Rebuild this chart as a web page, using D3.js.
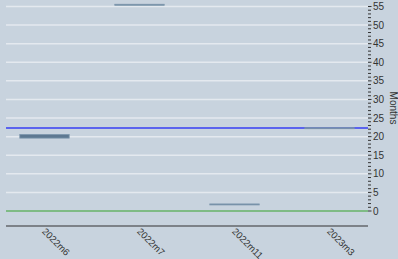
<!DOCTYPE html>
<html>
<head>
<meta charset="utf-8">
<script src="https://cdn.jsdelivr.net/npm/d3@7"></script>
<style>
  body { margin: 0; background: #c8d3de; }
  svg { display: block; font-family: "Liberation Sans", Arial, sans-serif; }
</style>
</head>
<body>
<script>
// data
const categories = ["2022m6", "2022m7", "2022m11", "2023m3"]
const lowValues = [19.6, 55.4, 1.7, 22.2]
const highValues = [20.6, 55.6, 1.9, 22.4]
const refBlue = 22.3
const refGreen = 0
const yTicks = [0, 5, 10, 15, 20, 25, 30, 35, 40, 45, 50, 55]

const w = 398
const h = 259
const padL = 6, padR = 368, padT = 6.5, padB = 211

const svg = d3.select("body")
  .append("svg")
  .attr("width", w)
  .attr("height", h)

const xScale = d3.scalePoint()
  .domain(categories)
  .range([padL, padR])
  .padding(0.405)

const yScale = d3.scaleLinear()
  .domain([0, 55])
  .range([padB, padT])

// gridlines
svg.append("g")
  .selectAll("line")
  .data(yTicks)
  .enter()
  .append("line")
  .attr("x1", padL)
  .attr("x2", padR)
  .attr("y1", d => yScale(d))
  .attr("y2", d => yScale(d))
  .attr("stroke", "#e4e9ef")
  .attr("stroke-width", 1.5)

// reference lines
svg.append("line")
  .attr("x1", padL).attr("x2", padR)
  .attr("y1", yScale(refGreen)).attr("y2", yScale(refGreen))
  .attr("stroke", "#5fae63").attr("stroke-width", 1.5)

svg.append("line")
  .attr("x1", padL).attr("x2", padR)
  .attr("y1", yScale(refBlue)).attr("y2", yScale(refBlue))
  .attr("stroke", "#5a63ee").attr("stroke-width", 2)

// bars
const bw = xScale.step() * 0.52
const bars = categories.map((c, i) => ({ c: c, lo: lowValues[i], hi: highValues[i] }))

svg.append("g")
  .selectAll("rect")
  .data(bars)
  .enter()
  .append("rect")
  .attr("x", d => xScale(d.c) - bw / 2)
  .attr("y", d => yScale(d.hi))
  .attr("width", bw)
  .attr("height", d => Math.max(1, yScale(d.lo) - yScale(d.hi)))
  .attr("fill", "#5d7891")
  .attr("stroke", "#7e98ae")
  .attr("stroke-width", 0.8)

// bottom axis line
svg.append("line")
  .attr("x1", padL).attr("x2", padR)
  .attr("y1", 226).attr("y2", 226)
  .attr("stroke", "#333").attr("stroke-width", 1.2)

// x labels
svg.append("g")
  .selectAll("text")
  .data(categories)
  .enter()
  .append("text")
  .attr("transform", d => "translate(" + (xScale(d) - 3) + ",232) rotate(45)")
  .attr("font-size", 9.5)
  .attr("fill", "#333")
  .text(d => d)

// y axis on the right
const minor = d3.range(0, 56, 1)
svg.append("g")
  .selectAll("line")
  .data(minor)
  .enter()
  .append("line")
  .attr("x1", padR)
  .attr("x2", d => d % 5 === 0 ? padR + 3.5 : padR + 3)
  .attr("y1", d => yScale(d))
  .attr("y2", d => yScale(d))
  .attr("stroke", "#333")
  .attr("stroke-width", 1)

svg.append("g")
  .selectAll("text")
  .data(yTicks)
  .enter()
  .append("text")
  .attr("x", 373)
  .attr("y", d => yScale(d))
  .attr("dy", "0.35em")
  .attr("font-size", 10)
  .attr("fill", "#333")
  .text(d => d)

svg.append("text")
  .attr("transform", "translate(390,108) rotate(90)")
  .attr("text-anchor", "middle")
  .attr("font-size", 10)
  .attr("fill", "#333")
  .text("Months")
</script>
</body>
</html>
